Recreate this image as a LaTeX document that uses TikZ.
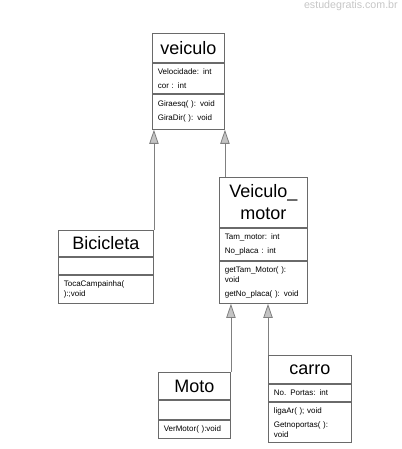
\documentclass[tikz,border=0pt]{standalone}
\usepackage{fontspec}
\setmainfont{Liberation Sans}
\usetikzlibrary{positioning,arrows.meta}
\definecolor{umlline}{HTML}{6A6A6A}
\definecolor{umlhead}{HTML}{C4C4C4}

\begin{document}
\begin{tikzpicture}[
x=0.75pt, y=-0.75pt,
font=\fontsize{6}{10.5}\selectfont,
title/.style={draw=umlline, line width=0.7pt, fill=white, anchor=north west, inner sep=0pt, align=center, font=\fontsize{13.5}{16.5}\selectfont},
part/.style={draw=umlline, line width=0.7pt, fill=white, inner xsep=4pt, inner ysep=0pt, align=left},
arrow/.style={-{Triangle[width=7pt, length=10.5pt, fill=umlhead]}, draw=umlline!85, line width=0.6pt}
]
\useasboundingbox (0,0) rectangle (402,449);
\node[font=\fontsize{8}{9}\selectfont, text=gray!45, anchor=north east, inner sep=0pt] (site) at (398,1) {estudegratis.com.br};

% veiculo
\node[title, minimum width=54pt, minimum height=21.75pt] (veiculo) at (152,33) {veiculo};
\node[part, text width=46pt, minimum height=22.5pt, below=0pt of veiculo] (veiculo-at) {Velocidade: int\\cor : int};
\node[part, text width=46pt, minimum height=26.25pt, below=0pt of veiculo-at] (veiculo-me) {Giraesq( ): void\\GiraDir( ): void};

% Bicicleta
\node[title, minimum width=71.25pt, minimum height=19.5pt] (bicicleta) at (58,230) {Bicicleta};
\node[part, text width=63.25pt, minimum height=12.75pt, below=0pt of bicicleta] (bicicleta-at) {};
\node[part, text width=63.25pt, minimum height=21pt, below=0pt of bicicleta-at, font=\fontsize{6}{7.5}\selectfont] (bicicleta-me) {TocaCampainha(\\):;void};

% Veiculo_motor
\node[title, minimum width=66pt, minimum height=37.5pt] (vmotor) at (219,177) {Veiculo\_\\motor};
\node[part, text width=58pt, minimum height=24pt, below=0pt of vmotor] (vmotor-at) {Tam\_motor: int\\No\_placa : int};
\node[part, text width=58pt, minimum height=31.5pt, below=0pt of vmotor-at, font=\fontsize{6}{7.5}\selectfont] (vmotor-me) {getTam\_Motor( ):\\void\\[3pt]getNo\_placa( ): void};

% Moto
\node[title, minimum width=54pt, minimum height=20.25pt] (moto) at (158,372) {Moto};
\node[part, text width=46pt, minimum height=14.25pt, below=0pt of moto] (moto-at) {};
\node[part, text width=46pt, minimum height=13.5pt, below=0pt of moto-at] (moto-me) {VerMotor( ):void};

% carro
\node[title, minimum width=62.25pt, minimum height=21pt] (carro) at (268,355) {carro};
\node[part, text width=54.25pt, minimum height=12.75pt, below=0pt of carro] (carro-at) {No. Portas: int};
\node[part, text width=54.25pt, minimum height=30pt, below=0pt of carro-at, font=\fontsize{6}{7.5}\selectfont] (carro-me) {ligaAr( ); void\\[3pt]Getnoportas( ):\\void};

% heranca
\draw[arrow] (bicicleta.north east) -- (bicicleta.north east |- veiculo-me.south);
\draw[arrow] (veiculo-me.south east |- vmotor.north) -- (veiculo-me.south east);
\draw[arrow] (moto.north east) -- (moto.north east |- vmotor-me.south);
\draw[arrow] (carro.north west) -- (carro.north west |- vmotor-me.south);
\end{tikzpicture}
\end{document}
